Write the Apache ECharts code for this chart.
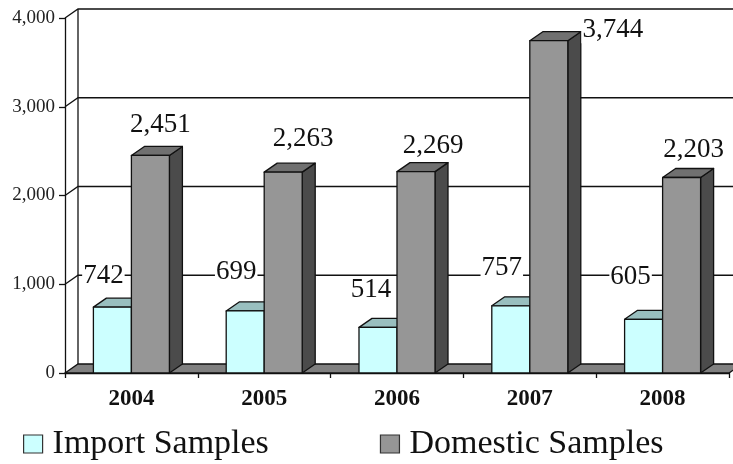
<!DOCTYPE html>
<html><head><meta charset="utf-8">
<style>html,body{margin:0;padding:0;background:#fff}#c{width:733px;height:464px}</style>
<script src="https://cdn.jsdelivr.net/npm/echarts@6/dist/echarts.min.js"></script>
</head><body><div id="c"></div>
<script>
const categories = ['2004','2005','2006','2007','2008'];
const importSamples = [742,699,514,757,605];
const domesticSamples = [2451,2263,2269,3744,2203];
const yTicks = [0,1000,2000,3000,4000];

const SERIF = '"Liberation Serif", serif';
const DX = 13, DY = 9, BAR = 38;
const importNudge = [[-9,-31],[-9,-39],[-7,-37],[-9,-38],[-13,-42]];
const domesticNudge = [[10,-31],[20,-33],[17,-26],[64,-11],[12,-28]];
const STROKE = '#111';

function fmt(v){return v.toLocaleString('en-US');}

function barRenderer(barOffset, nudges, front, top, side){
  return function(params, api){
    const i = api.value(0), v = api.value(1);
    const t = api.coord([i, v]), b = api.coord([i, 0]);
    const x0 = t[0] + barOffset, x1 = x0 + BAR, yt = t[1], yb = b[1];
    const line = {stroke: STROKE, lineWidth: 1.3, lineJoin: 'round'};
    const n = nudges[params.dataIndex];
    return {type:'group', children:[
      {type:'polygon', shape:{points:[[x1,yb],[x1+DX,yb-DY],[x1+DX,yt-DY],[x1,yt]]}, style:Object.assign({fill:side},line)},
      {type:'polygon', shape:{points:[[x0,yt],[x0+DX,yt-DY],[x1+DX,yt-DY],[x1,yt]]}, style:Object.assign({fill:top},line)},
      {type:'rect', shape:{x:x0,y:yt,width:BAR,height:yb-yt}, style:Object.assign({fill:front},line)},
      {type:'text', z2:50, x:(x0+x1)/2+n[0], y:yt+n[1], style:{text:fmt(v), fill:'#111', font:'27px '+SERIF, align:'center', verticalAlign:'middle', backgroundColor:'#fff', padding:[0,1]}}
    ]};
  };
}

function wallRenderer(params, api){
  const v = api.value(0);
  const rect = params.coordSys;
  const p = api.coord([0, v]);
  const xl = rect.x, y = p[1], xr = rect.x + rect.width;
  const line = {stroke: STROKE, lineWidth: 1.3, fill:'none'};
  const kids = [];
  if (v === yTicks[0]) {
    kids.push({type:'polygon', shape:{points:[[xl,y],[xl+DX,y-DY],[xr+DX,y-DY],[xr,y]]}, style:{fill:'#808080', stroke:STROKE, lineWidth:1.3}});
  } else {
    kids.push({type:'polyline', shape:{points:[[xl,y],[xl+DX,y-DY],[xr+DX,y-DY]]}, style:line});
  }
  if (v === yTicks[yTicks.length-1]) {
    const b = api.coord([0, yTicks[0]])[1];
    kids.push({type:'line', shape:{x1:xl+DX,y1:y-DY,x2:xl+DX,y2:b-DY}, style:line});
  }
  return {type:'group', children:kids};
}

const chart = echarts.init(document.getElementById('c'), null, {renderer:'canvas'});
chart.setOption({
  animation:false,
  backgroundColor:'#fff',
  grid:{left:65, right:4, top:18, bottom:91, containLabel:false},
  xAxis:{type:'category', data:categories,
    axisLine:{show:true, lineStyle:{color:STROKE,width:1.3}},
    axisTick:{show:true, length:5, alignWithLabel:false, lineStyle:{color:STROKE,width:1.3}},
    axisLabel:{fontFamily:SERIF, fontWeight:'bold', fontSize:23, color:'#111', margin:15}},
  yAxis:{type:'value', min:0, max:4000, interval:1000,
    axisLine:{show:true, lineStyle:{color:STROKE,width:1.3}},
    axisTick:{show:true, length:6, lineStyle:{color:STROKE,width:1.3}},
    splitLine:{show:false},
    axisLabel:{fontFamily:SERIF, fontSize:19, color:'#222', margin:10, formatter:v=>fmt(v)}},
  legend:{show:true, left:18, top:422, icon:'rect', itemWidth:19, itemHeight:18, itemGap:111,
    data:['Import Samples','Domestic Samples'],
    textStyle:{fontFamily:SERIF, fontSize:34, color:'#111', padding:[0,0,0,5]},
    itemStyle:{borderColor:'#333', borderWidth:1.2}},
  series:[
    {type:'custom', name:'wall', silent:true, data:yTicks.map(v=>[v]), encode:{y:0}, renderItem:wallRenderer, z:1, tooltip:{show:false}},
    {type:'custom', name:'Import Samples', data:importSamples.map((v,i)=>[i,v]), encode:{x:0,y:1}, itemStyle:{color:'#CCFFFF'},
      renderItem:barRenderer(-BAR, importNudge, '#CCFFFF', '#99BFBF', '#669999'), z:2},
    {type:'custom', name:'Domestic Samples', data:domesticSamples.map((v,i)=>[i,v]), encode:{x:0,y:1}, itemStyle:{color:'#969696'},
      renderItem:barRenderer(0, domesticNudge, '#969696', '#707070', '#4B4B4B'), z:3}
  ]
});
</script></body></html>
